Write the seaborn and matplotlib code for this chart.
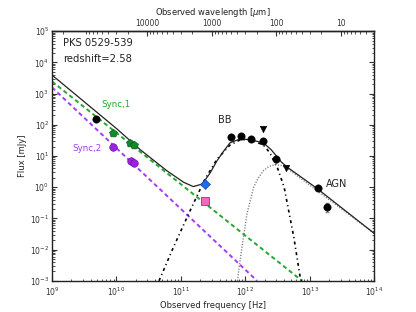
import numpy as np
import pandas as pd
import matplotlib
matplotlib.use("Agg")
import matplotlib.pyplot as plt
from matplotlib.ticker import FuncFormatter, LogLocator, NullFormatter
import seaborn as sns

# photometry (Hz, mJy)
bk_nu = [4.8e9, 5.9e11, 8.5e11, 1.2e12, 1.88e12, 3.0e12, 1.32e13, 1.86e13]
bk_flux = [158, 40, 43, 35, 31, 8.0, 0.93, 0.24]
bk_err = [0, 0, 0, 0, 0, 1.6, 0, 0.08]
ul_nu = [1.88e12, 4.3e12]
ul_flux = [72, 4.1]
s1_nu = [8.75e9, 1.63e10, 1.87e10]
s1_flux = [55, 26, 23]
s2_nu = [8.75e9, 1.67e10, 1.87e10]
s2_flux = [20, 7.1, 6.0]
blue_nu = [2.35e11]
blue_flux = [1.27]
pink_nu = [2.35e11]
pink_flux = [0.35]

# model curves (log10 nu, log10 flux)
sync1_lognu = [9.0, 12.877]
sync1_logf = [3.39, -3.0]
sync2_lognu = [9.0, 12.18]
sync2_logf = [3.2, -3.0]
bb_lognu = [10.66, 10.88, 11.14, 11.37, 11.56, 11.76, 11.92, 12.08, 12.28,
            12.38, 12.5, 12.6, 12.75, 12.85, 12.877]
bb_logf = [-3.0, -1.94, -0.76, 0.25, 0.9, 1.35, 1.52, 1.52, 1.35,
           1.1, 0.6, 0.0, -1.6, -2.9, -3.0]
agn_lognu = [11.877, 11.9, 11.945, 12.023, 12.127, 12.2, 12.28, 12.36,
             12.45, 12.55, 12.65, 14.0]
agn_logf = [-3.0, -2.6, -1.94, -0.86, 0.0, 0.3, 0.53, 0.66,
            0.72, 0.70, 0.6, -1.485]
tot_lognu = [9.0, 10.0, 10.37, 10.78, 11.04, 11.19, 11.33, 11.45, 11.56,
             11.66, 11.76, 11.92, 12.08, 12.28, 12.4, 12.48, 12.56, 12.65,
             13.11, 14.0]
tot_logf = [3.595, 1.88, 1.2, 0.53, 0.16, 0.02, 0.1, 0.45, 0.85,
            1.15, 1.42, 1.55, 1.52, 1.42, 1.2, 1.0, 0.8, 0.64,
            -0.04, -1.485]

sns.set_style("ticks")
plt.rcParams.update({
    "xtick.direction": "in", "ytick.direction": "in",
    "ytick.right": True, "xtick.top": False,
    "axes.linewidth": 1.0, "axes.edgecolor": "#222222",
    "xtick.major.size": 3.5, "ytick.major.size": 3.5,
    "xtick.minor.size": 1.8, "ytick.minor.size": 1.8,
    "xtick.labelsize": 5.5, "ytick.labelsize": 5.5,
    "xtick.color": "#333333", "ytick.color": "#333333",
    "axes.labelsize": 6, "axes.labelcolor": "#222222",
})
plt.rcParams["font.family"] = ["DejaVu Sans"]

fig, ax = plt.subplots(figsize=(4.16, 3.12), dpi=100)
fig.subplots_adjust(left=0.125, right=0.9, bottom=0.1, top=0.9)
ax.set_xscale("log")
ax.set_yscale("log")

def curve(lognu, logf):
    return pd.DataFrame({"nu": 10 ** np.array(lognu), "f": 10 ** np.array(logf)})

d = curve(sync1_lognu, sync1_logf)
sns.lineplot(data=d, x="nu", y="f", ax=ax, color="#22a82e", lw=1.4,
             linestyle=(0, (2.2, 1.6)), estimator=None, sort=False)
d = curve(sync2_lognu, sync2_logf)
sns.lineplot(data=d, x="nu", y="f", ax=ax, color="#a23cf5", lw=1.4,
             linestyle=(0, (2.2, 1.6)), estimator=None, sort=False)
d = curve(bb_lognu, bb_logf)
sns.lineplot(data=d, x="nu", y="f", ax=ax, color="black", lw=1.2,
             linestyle=(0, (1.8, 2.0, 0.7, 2.0)), estimator=None, sort=False)
d = curve(agn_lognu, agn_logf)
sns.lineplot(data=d, x="nu", y="f", ax=ax, color="#777777", lw=1.0,
             linestyle=(0, (0.8, 1.2)), estimator=None, sort=False)
d = curve(tot_lognu, tot_logf)
sns.lineplot(data=d, x="nu", y="f", ax=ax, color="#222222", lw=0.9,
             estimator=None, sort=False)

ax.errorbar(bk_nu, bk_flux, yerr=bk_err, fmt="none", ecolor="#888888",
            elinewidth=0.8, capsize=1.5, zorder=3)
sns.scatterplot(x=bk_nu, y=bk_flux, ax=ax, color="black", marker="o", s=28,
                edgecolor="black", linewidth=0.4, zorder=4)
sns.scatterplot(x=ul_nu, y=ul_flux, ax=ax, color="black", marker="v", s=22,
                edgecolor="black", linewidth=0.4, zorder=4)
sns.scatterplot(x=s1_nu, y=s1_flux, ax=ax, color="#128a2c", marker="p", s=36,
                edgecolor="#0a4a16", linewidth=0.4, zorder=4)
sns.scatterplot(x=s2_nu, y=s2_flux, ax=ax, color="#9c22e0", marker="o", s=30,
                edgecolor="#5a1090", linewidth=0.4, zorder=4)
sns.scatterplot(x=blue_nu, y=blue_flux, ax=ax, color="#1a6cf0", marker="D", s=26,
                edgecolor="#0a3a90", linewidth=0.4, zorder=4)
sns.scatterplot(x=pink_nu, y=pink_flux, ax=ax, color="#f068c0", marker="s", s=28,
                edgecolor="#7a2060", linewidth=0.5, zorder=4)

ax.set_xlim(1e9, 1e14)
ax.set_ylim(1e-3, 1e5)
ax.set_xlabel("Observed frequency [Hz]", labelpad=2)
ax.set_ylabel("Flux [mJy]", labelpad=2)
ax.yaxis.set_major_locator(LogLocator(base=10, numticks=20))
ax.yaxis.set_minor_locator(LogLocator(base=10, subs=np.arange(2, 10), numticks=20))
ax.yaxis.set_minor_formatter(NullFormatter())
ax.tick_params(axis="y", which="both", pad=2)
ax.tick_params(axis="x", which="both", pad=3.5)

sec = ax.secondary_xaxis("top", functions=(lambda n: 3e14 / n, lambda l: 3e14 / l))
sec.set_xticks([1e4, 1e3, 1e2, 1e1])
sec.xaxis.set_major_formatter(FuncFormatter(lambda v, p: "%d" % round(v)))
sec.xaxis.set_minor_formatter(NullFormatter())
sec.tick_params(which="both", direction="in", pad=2, labelsize=5.5)
sec.set_xlabel(r"Observed wavelength [$\mu$m]", fontsize=6, labelpad=3)

ax.text(0.033, 0.952, "PKS 0529-539", transform=ax.transAxes, fontsize=7.2,
        va="center", color="#222222")
ax.text(0.033, 0.888, "redshift=2.58", transform=ax.transAxes, fontsize=7.2,
        va="center", color="#222222")
ax.text(0.152, 0.707, "Sync,1", transform=ax.transAxes, fontsize=6.3,
        va="center", color="#22a82e")
ax.text(0.064, 0.531, "Sync,2", transform=ax.transAxes, fontsize=6.3,
        va="center", color="#a23cf5")
ax.text(0.516, 0.643, "BB", transform=ax.transAxes, fontsize=7,
        va="center", color="#222222")
ax.text(0.851, 0.388, "AGN", transform=ax.transAxes, fontsize=7,
        va="center", color="#222222")

fig.savefig("out.png", dpi=100)
